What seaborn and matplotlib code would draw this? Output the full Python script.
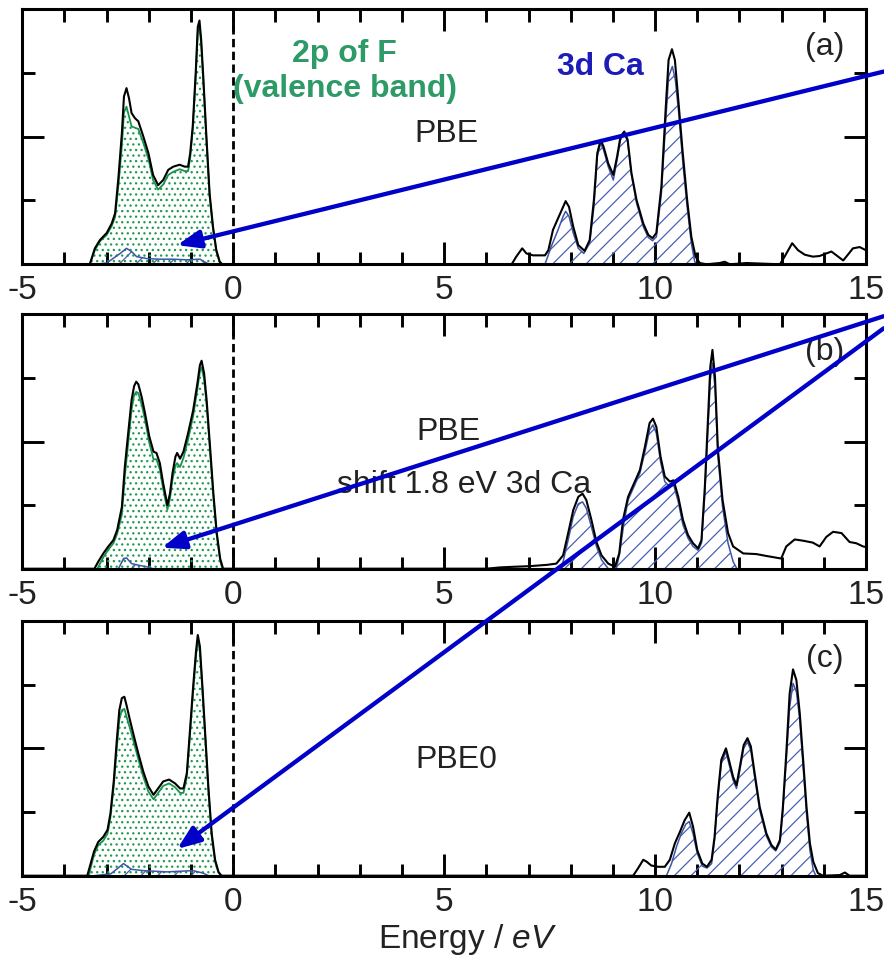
import matplotlib
matplotlib.use("Agg")
import matplotlib.pyplot as plt
from matplotlib.ticker import MultipleLocator
import pandas as pd
import seaborn as sns

# ---------------- data: energy (eV) and DOS (arb. units) ----------------
# (a) PBE
e_tot_a = [-5.0, -3.40, -3.28, -3.16, -3.00, -2.88, -2.80, -2.72, -2.64, -2.59,
           -2.53, -2.47, -2.41, -2.33, -2.25, -2.13, -2.01, -1.90, -1.78, -1.66,
           -1.54, -1.42, -1.27, -1.15, -1.07, -1.02, -0.96, -0.89, -0.84, -0.80,
           -0.76, -0.71, -0.64, -0.56, -0.48, -0.40, -0.32, -0.26, 6.60, 6.71,
           6.85, 6.95, 7.11, 7.39, 7.47, 7.58, 7.70, 7.82, 7.88, 7.96,
           8.06, 8.18, 8.33, 8.45, 8.55, 8.63, 8.71, 8.78, 8.89, 9.01,
           9.10, 9.18, 9.27, 9.35, 9.44, 9.56, 9.72, 9.84, 9.94, 10.03,
           10.15, 10.25, 10.32, 10.40, 10.47, 10.55, 10.65, 10.76, 10.86, 10.96,
           11.06, 11.22, 11.53, 11.65, 11.77, 12.17, 12.96, 13.07, 13.25, 13.39,
           13.55, 13.74, 13.90, 14.06, 14.18, 14.34, 14.46, 14.57, 14.69, 14.85,
           15.0]
dos_tot_a = [0, 0, 0.25, 0.38, 0.49, 0.64, 0.80, 1.37, 2.05, 2.63,
             2.76, 2.60, 2.37, 2.29, 2.24, 2.00, 1.74, 1.40, 1.24, 1.32,
             1.48, 1.53, 1.56, 1.53, 1.53, 1.74, 2.16, 2.99, 3.72, 3.82,
             3.52, 2.94, 2.05, 1.11, 0.59, 0.22, 0.04, 0, 0, 0.12,
             0.25, 0.17, 0.14, 0.14, 0.22, 0.54, 0.72, 0.90, 0.99, 0.90,
             0.59, 0.30, 0.21, 0.38, 1.01, 1.74, 1.95, 1.84, 1.58, 1.40,
             1.69, 2.00, 2.08, 1.95, 1.43, 1.01, 0.64, 0.46, 0.41, 0.49,
             1.22, 2.42, 3.20, 3.37, 3.20, 2.58, 1.79, 1.01, 0.43, 0.12,
             0.02, 0, 0.02, 0.04, 0, 0.02, 0, 0.12, 0.33, 0.22,
             0.15, 0.12, 0.13, 0.17, 0.20, 0.12, 0.06, 0.15, 0.25, 0.27,
             0.22]
e_f2p_a = [-3.40, -3.28, -3.16, -3.00, -2.88, -2.80, -2.72, -2.64, -2.59, -2.53,
           -2.41, -2.33, -2.25, -2.13, -2.01, -1.90, -1.78, -1.66, -1.54, -1.42,
           -1.27, -1.15, -1.07, -1.02, -0.96, -0.89, -0.84, -0.80, -0.76, -0.71,
           -0.64, -0.56, -0.48, -0.40, -0.32, -0.26]
dos_f2p_a = [0, 0.22, 0.36, 0.46, 0.60, 0.74, 1.25, 1.85, 2.38, 2.47,
             2.16, 2.14, 2.12, 1.90, 1.65, 1.32, 1.17, 1.25, 1.40, 1.45,
             1.49, 1.46, 1.46, 1.67, 2.10, 2.92, 3.64, 3.74, 3.45, 2.88,
             2.00, 1.07, 0.56, 0.20, 0.03, 0]
e_ca_a = [-3.28, -3.00, -2.68, -2.53, -2.41, -2.29, -2.05, -1.74, -1.42, -1.10,
          -0.79, -0.63, -0.58, 7.39, 7.54, 7.70, 7.82, 7.88, 7.96, 8.06,
          8.18, 8.31, 8.45, 8.55, 8.63, 8.71, 8.78, 8.89, 9.01, 9.10,
          9.18, 9.27, 9.35, 9.44, 9.56, 9.72, 9.84, 9.94, 10.03, 10.15,
          10.25, 10.32, 10.41, 10.48, 10.56, 10.66, 10.76, 10.86, 10.94, 10.98]
dos_ca_a = [0, 0.02, 0.17, 0.25, 0.20, 0.12, 0.09, 0.08, 0.08, 0.07,
            0.08, 0.02, 0, 0, 0.28, 0.54, 0.75, 0.83, 0.75, 0.49,
            0.25, 0.17, 0.33, 0.90, 1.69, 1.90, 1.79, 1.53, 1.32, 1.64,
            1.95, 2.05, 1.92, 1.40, 0.96, 0.59, 0.42, 0.37, 0.43, 1.11,
            2.21, 2.94, 3.10, 2.89, 2.37, 1.58, 0.90, 0.33, 0.04, 0]

# (b) PBE, 3d Ca shifted by 1.8 eV
e_tot_b = [-5.0, -3.29, -3.20, -3.08, -2.96, -2.84, -2.75, -2.64, -2.57, -2.49,
           -2.41, -2.35, -2.30, -2.25, -2.17, -2.09, -1.99, -1.89, -1.82, -1.74,
           -1.66, -1.56, -1.50, -1.44, -1.37, -1.33, -1.26, -1.18, -1.07, -0.95,
           -0.85, -0.79, -0.75, -0.69, -0.63, -0.55, -0.47, -0.39, -0.31, -0.24,
           6.00, 6.32, 6.64, 7.03, 7.43, 7.66, 7.82, 7.94, 8.06, 8.18,
           8.28, 8.37, 8.49, 8.61, 8.73, 8.89, 9.05, 9.15, 9.24, 9.36,
           9.52, 9.64, 9.76, 9.87, 9.95, 10.03, 10.13, 10.23, 10.35, 10.44,
           10.55, 10.66, 10.78, 10.90, 11.02, 11.10, 11.18, 11.26, 11.31, 11.36,
           11.42, 11.49, 11.60, 11.73, 11.85, 12.09, 12.40, 12.64, 12.99, 13.11,
           13.31, 13.51, 13.74, 13.90, 14.06, 14.22, 14.42, 14.61, 14.77, 14.93,
           15.0]
dos_tot_b = [0, 0, 0.11, 0.24, 0.35, 0.45, 0.61, 0.97, 1.60, 2.13,
             2.65, 2.87, 2.94, 2.90, 2.70, 2.44, 2.08, 1.84, 1.82, 1.66,
             1.34, 1.00, 1.18, 1.50, 1.76, 1.82, 1.73, 1.84, 2.13, 2.49,
             2.91, 3.20, 3.27, 3.07, 2.65, 1.92, 1.18, 0.56, 0.16, 0,
             0, 0.02, 0.03, 0.04, 0.06, 0.08, 0.21, 0.56, 0.92, 1.13,
             1.18, 1.08, 0.77, 0.42, 0.21, 0.08, 0.03, 0.24, 0.77, 1.13,
             1.37, 1.55, 1.92, 2.29, 2.36, 2.23, 1.76, 1.45, 1.37, 1.39,
             1.13, 0.77, 0.53, 0.40, 0.32, 0.45, 1.29, 2.44, 3.18, 3.44,
             3.02, 1.87, 1.08, 0.56, 0.35, 0.24, 0.23, 0.20, 0.16, 0.35,
             0.46, 0.44, 0.41, 0.35, 0.50, 0.58, 0.56, 0.42, 0.40, 0.35,
             0.34]
e_f2p_b = [-3.22, -3.08, -2.96, -2.84, -2.75, -2.64, -2.57, -2.49, -2.41, -2.35,
           -2.30, -2.25, -2.17, -2.09, -1.99, -1.89, -1.82, -1.74, -1.66, -1.56,
           -1.50, -1.44, -1.37, -1.33, -1.26, -1.18, -1.07, -0.95, -0.85, -0.79,
           -0.75, -0.69, -0.63, -0.55, -0.47, -0.39, -0.31, -0.26]
dos_f2p_b = [0, 0.18, 0.30, 0.40, 0.55, 0.85, 1.45, 1.97, 2.50, 2.73,
             2.78, 2.76, 2.58, 2.34, 1.98, 1.72, 1.72, 1.56, 1.25, 0.93,
             1.10, 1.40, 1.62, 1.66, 1.60, 1.74, 2.03, 2.40, 2.82, 3.10,
             3.17, 2.98, 2.57, 1.85, 1.12, 0.52, 0.13, 0]
e_ca_b = [-2.72, -2.60, -2.53, -2.41, -2.21, -2.05, -1.90, 7.78, 7.94, 8.06,
          8.18, 8.28, 8.37, 8.49, 8.61, 8.73, 8.89, 9.08, 9.16, 9.26,
          9.36, 9.52, 9.64, 9.76, 9.87, 9.95, 10.03, 10.13, 10.23, 10.35,
          10.44, 10.55, 10.66, 10.78, 10.90, 11.02, 11.10, 11.18, 11.26, 11.31,
          11.36, 11.42, 11.49, 11.60, 11.73, 11.85, 11.94]
dos_ca_b = [0, 0.16, 0.17, 0.08, 0.05, 0.03, 0, 0, 0.45, 0.82,
            1.02, 1.05, 0.95, 0.66, 0.35, 0.14, 0, 0, 0.24, 0.71,
            1.08, 1.32, 1.50, 1.84, 2.18, 2.26, 2.13, 1.68, 1.37, 1.29,
            1.32, 1.05, 0.69, 0.48, 0.35, 0.29, 0.40, 1.18, 2.29, 2.97,
            3.23, 2.86, 1.76, 0.97, 0.40, 0.11, 0]

# (c) PBE0
e_tot_c = [-5.0, -3.46, -3.38, -3.30, -3.20, -3.08, -2.98, -2.91, -2.83, -2.76,
           -2.70, -2.64, -2.58, -2.53, -2.45, -2.35, -2.25, -2.13, -2.01, -1.89,
           -1.78, -1.66, -1.52, -1.38, -1.26, -1.18, -1.10, -1.03, -0.95, -0.88,
           -0.84, -0.79, -0.73, -0.66, -0.59, -0.51, -0.43, -0.35, -0.28, 9.48,
           9.60, 9.72, 9.80, 9.91, 10.07, 10.23, 10.35, 10.47, 10.59, 10.70,
           10.81, 10.90, 11.00, 11.12, 11.23, 11.34, 11.41, 11.49, 11.57, 11.68,
           11.75, 11.85, 11.93, 12.01, 12.10, 12.19, 12.27, 12.36, 12.48, 12.64,
           12.76, 12.86, 12.96, 13.03, 13.11, 13.19, 13.27, 13.35, 13.43, 13.51,
           13.59, 13.67, 13.75, 13.86, 13.98, 14.38, 14.50, 14.61, 15.0]
dos_tot_c = [0, 0, 0.19, 0.38, 0.53, 0.61, 0.72, 0.98, 1.50, 2.13,
             2.60, 2.79, 2.81, 2.68, 2.45, 2.18, 1.92, 1.63, 1.40, 1.27,
             1.37, 1.48, 1.51, 1.45, 1.37, 1.37, 1.61, 2.24, 2.97, 3.54,
             3.78, 3.60, 2.97, 2.18, 1.40, 0.66, 0.25, 0.06, 0, 0,
             0.12, 0.25, 0.22, 0.16, 0.14, 0.14, 0.25, 0.51, 0.69, 0.87,
             0.99, 0.77, 0.40, 0.19, 0.14, 0.25, 0.61, 1.29, 1.82, 2.00,
             1.82, 1.55, 1.42, 1.71, 2.05, 2.16, 2.03, 1.61, 1.08, 0.66,
             0.48, 0.41, 0.56, 1.08, 1.92, 2.86, 3.24, 3.07, 2.55, 1.82,
             1.08, 0.51, 0.22, 0.04, 0, 0.01, 0.05, 0, 0]
e_f2p_c = [-3.42, -3.38, -3.30, -3.20, -3.08, -2.98, -2.91, -2.83, -2.76, -2.70,
           -2.64, -2.58, -2.53, -2.45, -2.35, -2.25, -2.13, -2.01, -1.89, -1.78,
           -1.66, -1.52, -1.38, -1.26, -1.18, -1.10, -1.03, -0.95, -0.88, -0.84,
           -0.79, -0.73, -0.66, -0.59, -0.51, -0.43, -0.35, -0.28]
dos_f2p_c = [0, 0.12, 0.33, 0.48, 0.55, 0.66, 0.92, 1.42, 2.00, 2.45,
             2.60, 2.62, 2.50, 2.32, 2.08, 1.83, 1.55, 1.32, 1.20, 1.30,
             1.41, 1.45, 1.39, 1.30, 1.30, 1.55, 2.17, 2.90, 3.47, 3.70,
             3.52, 2.90, 2.12, 1.35, 0.62, 0.22, 0.05, 0]
e_ca_c = [-3.30, -2.90, -2.60, -2.41, -2.13, -1.58, -0.95, -0.71, -0.59, 10.27,
          10.39, 10.51, 10.62, 10.73, 10.81, 10.90, 11.00, 11.12, 11.23, 11.34,
          11.41, 11.49, 11.57, 11.68, 11.75, 11.85, 11.93, 12.01, 12.10, 12.19,
          12.27, 12.36, 12.48, 12.64, 12.76, 12.86, 12.96, 13.03, 13.11, 13.19,
          13.27, 13.35, 13.43, 13.51, 13.59, 13.67, 13.75, 13.81]
dos_ca_c = [0, 0.03, 0.19, 0.10, 0.08, 0.06, 0.08, 0.04, 0, 0,
            0.19, 0.46, 0.66, 0.81, 0.85, 0.66, 0.35, 0.15, 0.12, 0.19,
            0.56, 1.24, 1.76, 1.95, 1.76, 1.50, 1.37, 1.66, 2.00, 2.10,
            1.97, 1.55, 1.03, 0.62, 0.45, 0.39, 0.52, 1.01, 1.82, 2.65,
            3.02, 2.89, 2.45, 1.71, 0.98, 0.40, 0.09, 0]

panel_tags = ["(a)", "(b)", "(c)"]
method_labels = ["PBE", "PBE", "PBE0"]

# ---------------- style ----------------
sns.set_theme(style="ticks")
plt.rcParams["font.family"] = ["Liberation Sans", "DejaVu Sans"]
plt.rcParams["mathtext.fontset"] = "custom"
plt.rcParams["mathtext.rm"] = "Liberation Sans"
plt.rcParams["mathtext.it"] = "Liberation Sans:italic"
plt.rcParams["axes.unicode_minus"] = False
plt.rcParams["hatch.linewidth"] = 0.9

TOTAL = "black"
F_LINE = "#17934a"
F_DOTS = "#1e9a50"
CA_LINE = "#3d55a8"
CA_HATCH = "#4a60b4"
ARROW = "#0000c8"
F_TEXT = "#2e9a68"
CA_TEXT = "#1c1cb8"

fig = plt.figure(figsize=(8.84, 9.57), dpi=100)
W, H = 884.0, 957.0
left, right = 22.3, 866.0
tops = [9.0, 314.3, 621.0]
bottoms = [264.3, 568.7, 875.7]
axes = []
for t, b in zip(tops, bottoms):
    axes.append(fig.add_axes([left / W, 1 - b / H, (right - left) / W, (b - t) / H]))

series = [
    ((e_tot_a, dos_tot_a), (e_f2p_a, dos_f2p_a), (e_ca_a, dos_ca_a)),
    ((e_tot_b, dos_tot_b), (e_f2p_b, dos_f2p_b), (e_ca_b, dos_ca_b)),
    ((e_tot_c, dos_tot_c), (e_f2p_c, dos_f2p_c), (e_ca_c, dos_ca_c)),
]

for ax, (tot, f2p, ca), tag, method in zip(axes, series, panel_tags, method_labels):
    df_tot = pd.DataFrame({"E": tot[0], "DOS": tot[1]})
    df_f = pd.DataFrame({"E": f2p[0], "DOS": f2p[1]})
    df_ca = pd.DataFrame({"E": ca[0], "DOS": ca[1]})

    # hatched projections
    ax.fill_between(df_f["E"], 0, df_f["DOS"], facecolor="none", edgecolor=F_DOTS,
                    hatch="...", linewidth=0, zorder=1)
    ax.fill_between(df_ca["E"], 0, df_ca["DOS"], facecolor="none", edgecolor=CA_HATCH,
                    hatch="//", linewidth=0, zorder=1)

    sns.lineplot(data=df_ca, x="E", y="DOS", ax=ax, color=CA_LINE, lw=1.1,
                 estimator=None, sort=False, zorder=2)
    sns.lineplot(data=df_f, x="E", y="DOS", ax=ax, color=F_LINE, lw=1.3,
                 estimator=None, sort=False, zorder=2)
    sns.lineplot(data=df_tot, x="E", y="DOS", ax=ax, color=TOTAL, lw=1.5,
                 estimator=None, sort=False, zorder=3)

    # Fermi level
    ax.axvline(0, color="black", lw=2, ls=(0, (3, 1.6)), zorder=2)

    ax.set_xlim(-5, 15)
    ax.set_ylim(0, 4)
    ax.set_xlabel("")
    ax.set_ylabel("")
    ax.xaxis.set_major_locator(MultipleLocator(5))
    ax.xaxis.set_minor_locator(MultipleLocator(1))
    ax.yaxis.set_major_locator(MultipleLocator(2))
    ax.yaxis.set_minor_locator(MultipleLocator(1))
    ax.tick_params(which="both", direction="in", top=True, right=True, width=2.1,
                   color="black")
    ax.tick_params(which="major", length=16, labelsize=24, pad=8, labelcolor="#222222")
    ax.tick_params(which="minor", length=9)
    ax.tick_params(axis="y", labelleft=False)
    for sp in ax.spines.values():
        sp.set_linewidth(2.2)
        sp.set_color("black")
    ax.set_facecolor("white")

    ax.text(14.02, 3.28, tag, fontsize=23, ha="center", va="baseline", color="#222222")

axes[0].text(5.06, 1.92, "PBE", fontsize=23, ha="center", va="baseline", color="#222222")
axes[1].text(5.09, 2.03, "PBE", fontsize=23, ha="center", va="baseline", color="#222222")
axes[1].text(5.47, 1.19, "shift 1.8 eV 3d Ca", fontsize=23, ha="center", va="baseline",
             color="#222222")
axes[2].text(5.28, 1.69, "PBE0", fontsize=23, ha="center", va="baseline", color="#222222")

axes[0].text(2.64, 3.17, "2p of F", fontsize=23, fontweight="bold", ha="center",
             va="baseline", color=F_TEXT)
axes[0].text(2.64, 2.62, "(valence band)", fontsize=23, fontweight="bold", ha="center",
             va="baseline", color=F_TEXT)
axes[0].text(8.71, 2.97, "3d Ca", fontsize=23, fontweight="bold", ha="center",
             va="baseline", color=CA_TEXT)

# x label on the bottom panel only
axes[2].set_xlabel("Energy / $\\mathit{eV}$", fontsize=24, color="#222222")
axes[2].xaxis.set_label_coords(0.528, -0.284)
axes[2].xaxis.label.set_verticalalignment("baseline")

# arrows from the 3d Ca label region down to the valence band
arrowprops = dict(arrowstyle="-|>,head_length=0.7,head_width=0.27", mutation_scale=20,
                  color=ARROW, lw=3.1, shrinkA=0, shrinkB=0)
axes[0].annotate("", xy=(-1.33, 0.30), xytext=(15.42, 3.02), xycoords="data",
                 textcoords="data", arrowprops=arrowprops, annotation_clip=False, zorder=5)
axes[1].annotate("", xy=(-1.69, 0.33), xytext=(15.42, 3.97), xycoords="data",
                 textcoords="data", arrowprops=arrowprops, annotation_clip=False, zorder=5)
axes[2].annotate("", xy=(-1.33, 0.42), xytext=(15.42, 3.78), xycoords="data",
                 textcoords=axes[1].transData, arrowprops=arrowprops,
                 annotation_clip=False, zorder=5)

fig.savefig("out.png", dpi=100)
